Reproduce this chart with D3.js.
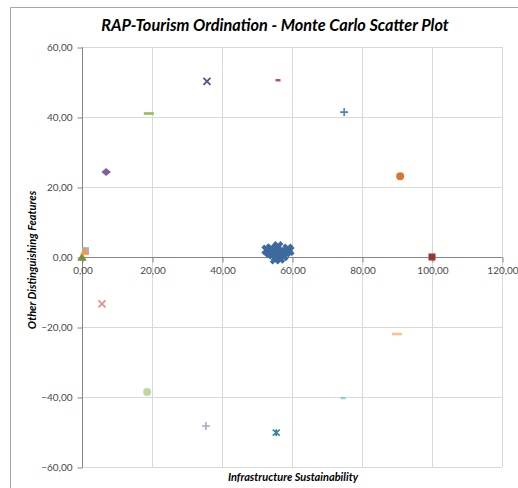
<!DOCTYPE html>
<html><head><meta charset="utf-8">
<script src="https://cdn.jsdelivr.net/npm/d3@7"></script>
<style>
html,body{margin:0;padding:0;background:#fff;}
svg{display:block;}
text{font-family:Lato,"Open Sans",sans-serif;}
</style></head>
<body>
<script>
// ---- data ----
const xTicks = [0, 20, 40, 60, 80, 100, 120];
const yTicks = [-60, -40, -20, 0, 20, 40, 60];
// Monte Carlo cluster (main series)
const clusterX = [52.8, 54.0, 55.0, 56.0, 57.2, 58.8, 55.5, 56.5, 54.5, 57.5, 56.0, 55.2, 58.2, 53.6, 59.2];
const clusterY = [2.0, 2.4, 1.5, 3.0, 1.2, 2.3, 0.0, -0.4, 0.8, 0.3, 1.0, -0.6, 1.4, 1.3, 1.8];
// reference / anchor points
const anchorNames = ["good","bad","up","down","a1","a2","a3","a4","a5","a6","a7","a8","a9","a10","a11","a12"];
const anchorX = [100.0, 0.0, 6.9, 35.7, 55.5, 90.9, 74.9, 56.0, 19.1, 35.4, 74.6, 90.0, 5.7, 18.6, 1.0, 0.8];
const anchorY = [0.0, -0.3, 24.3, 50.2, -50.2, 23.1, 41.4, 50.5, 41.0, -48.3, -40.3, -22.0, -13.4, -38.6, 1.8, 1.4];
// marker styles per anchor
const anchorShape = ["square","triangle","diamond","x","star","circle","plus","dashS","dashL","plus","dashS","dashL","x","circle","square","triangle"];
const anchorColor = ["#953735","#77933C","#7F5FA0","#5F4B8B","#31849B","#D9772F","#4F81BD","#C0504D","#9BBB59","#B3A2C7","#93CDDD","#FAC090","#E6908E","#C3D69B","#95B3D7","#F79646"];

const W = 518, H = 488;
const svg = d3.select("body").append("svg").attr("width", W).attr("height", H);

// chart area border
svg.append("path").attr("d", "M10.5,488 V7.5 H518").attr("fill","none").attr("stroke","#A6A6A6").attr("stroke-width",1);

const x = d3.scaleLinear().domain([0,120]).range([82,502]);
const y = d3.scaleLinear().domain([-60,60]).range([467,47]);

// gridlines
const g = svg.append("g");
g.selectAll(".vg").data(xTicks.filter(d=>d!==0)).enter().append("line")
  .attr("x1",d=>Math.round(x(d))+0.5).attr("x2",d=>Math.round(x(d))+0.5)
  .attr("y1",y(60)).attr("y2",y(-60)).attr("stroke","#D9D9D9");
g.selectAll(".hg").data(yTicks.filter(d=>d!==0)).enter().append("line")
  .attr("y1",d=>Math.round(y(d))+0.5).attr("y2",d=>Math.round(y(d))+0.5)
  .attr("x1",x(0)).attr("x2",x(120)).attr("stroke","#D9D9D9");

// axes
const fmt = d=>d3.format(".2f")(d).replace(".",",");
const yAxis = d3.axisLeft(y).tickValues(yTicks).tickSize(5).tickPadding(5).tickFormat(fmt);
const ya = svg.append("g").attr("transform",`translate(${x(0)+0.5},0.5)`).call(yAxis);
const xAxis = d3.axisBottom(x).tickValues(xTicks).tickSize(5).tickPadding(4).tickFormat(fmt);
const xa = svg.append("g").attr("transform",`translate(0.5,${y(0)+0.5})`).call(xAxis);
[ya,xa].forEach(a=>{
  a.select(".domain").attr("stroke","#868686");
  a.selectAll(".tick line").attr("stroke","#868686");
  a.selectAll(".tick text").attr("fill","#4a4a4a").style("font-size","10px").style("font-family","Lato");
});
xa.select(".domain").attr("d",`M${x(0)},0H${x(120)}`);
ya.select(".domain").attr("d",`M0,${y(60)}V${y(-60)}`);

// markers
function drawMarker(sel, shape, color){
  const s = 7;
  if(shape==="square") sel.append("rect").attr("x",-s/2).attr("y",-s/2).attr("width",s).attr("height",s).attr("fill",color);
  else if(shape==="circle") sel.append("circle").attr("r",s/2+0.5).attr("fill",color);
  else if(shape==="diamond") sel.append("path").attr("d","M-4.8,0L0,-4L4.8,0L0,4Z").attr("fill",color);
  else if(shape==="triangle") sel.append("path").attr("d",d3.symbol(d3.symbolTriangle,38)()).attr("fill",color);
  else if(shape==="x") sel.append("path").attr("d","M-3.5,-3.5L3.5,3.5M-3.5,3.5L3.5,-3.5").attr("stroke",color).attr("stroke-width",1.8);
  else if(shape==="star") sel.append("path").attr("d","M-3.5,-3L3.5,3M-3.5,3L3.5,-3M0,-3.5V3.5").attr("stroke",color).attr("stroke-width",1.6);
  else if(shape==="plus") sel.append("path").attr("d","M-4,0H4M0,-4V4").attr("stroke",color).attr("stroke-width",1.6);
  else if(shape==="dashS") sel.append("rect").attr("x",-2.5).attr("y",-1.2).attr("width",5).attr("height",2.4).attr("fill",color);
  else if(shape==="dashL") sel.append("rect").attr("x",-5).attr("y",-1.3).attr("width",10).attr("height",2.6).attr("fill",color);
}

const pts = svg.append("g");
anchorX.forEach((vx,i)=>{
  const m = pts.append("g").attr("transform",`translate(${x(vx)},${y(anchorY[i])})`);
  drawMarker(m, anchorShape[i], anchorColor[i]);
});
// cluster: thick blue X markers
clusterX.forEach((vx,i)=>{
  const m = pts.append("g").attr("transform",`translate(${x(vx)},${y(clusterY[i])})`);
  m.append("path").attr("d","M-4,-4L4,4M-4,4L4,-4").attr("stroke","#3D6A9E").attr("stroke-width",4);
});

// titles
svg.append("text").attr("x",275).attr("y",31).attr("text-anchor","middle")
  .style("font-size","16.3px").style("font-weight","bold").style("font-style","italic").attr("fill","#000")
  .text("RAP-Tourism Ordination - Monte Carlo Scatter Plot");
svg.append("text").attr("x",293).attr("y",481).attr("text-anchor","middle")
  .style("font-size","11px").style("font-weight","bold").style("font-style","italic").attr("fill","#000")
  .text("Infrastructure Sustainability");
svg.append("text").attr("transform","translate(36,260) rotate(-90)").attr("text-anchor","middle")
  .style("font-size","11px").style("font-weight","bold").style("font-style","italic").attr("fill","#000")
  .text("Other Distinguishing Features");
</script>
</body></html>
